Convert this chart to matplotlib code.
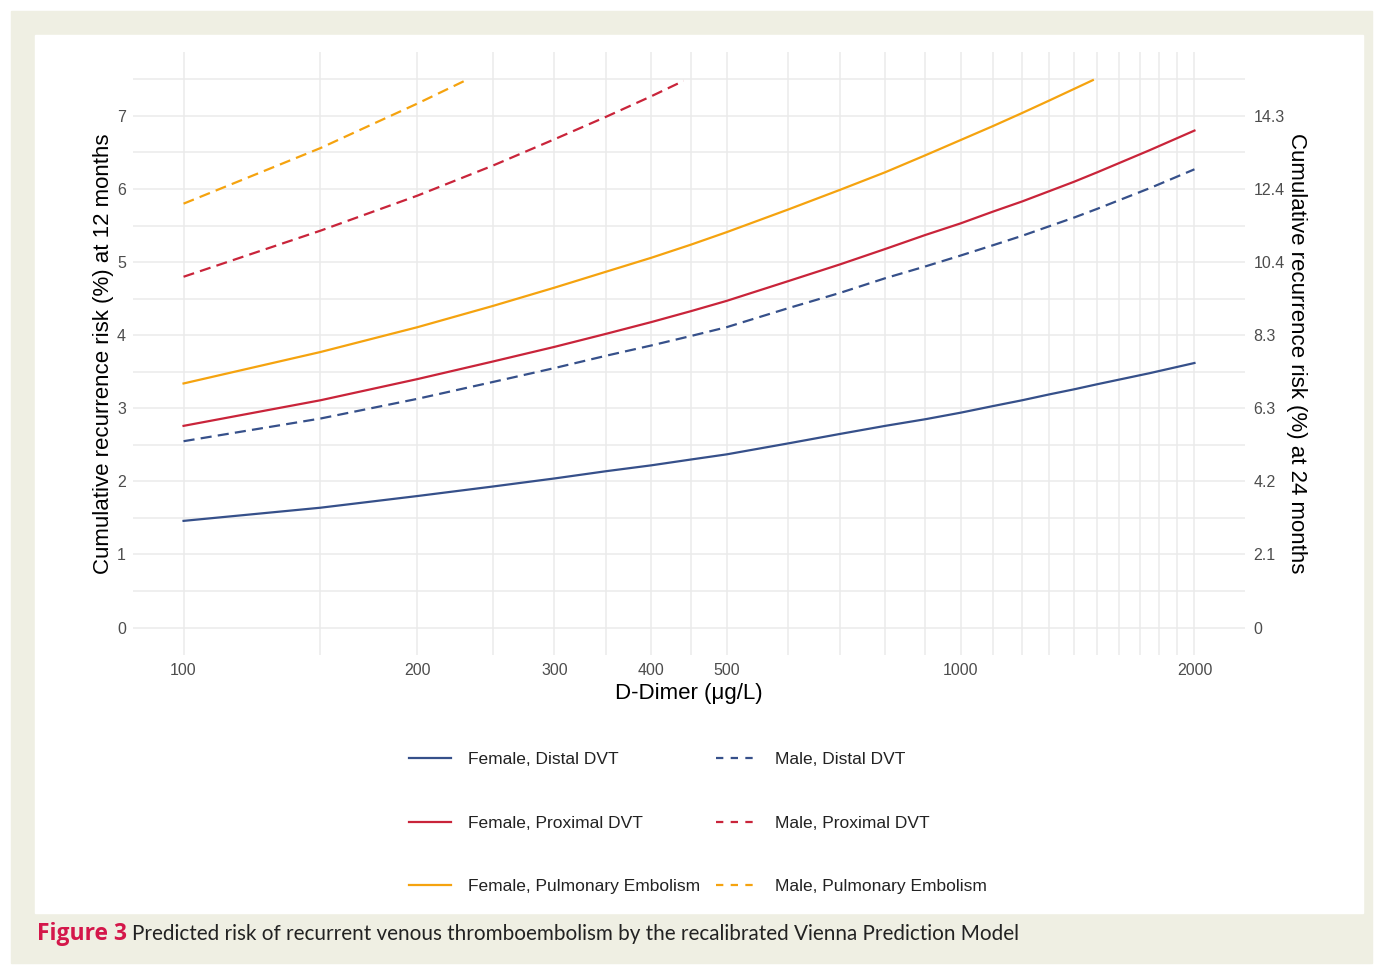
import matplotlib.pyplot as plt
from matplotlib.patches import Rectangle
from matplotlib.lines import Line2D
import numpy as np

# D-dimer (ug/L) values the curves were read at
dd = [100, 150, 200, 250, 300, 350, 400, 450, 500, 600, 700, 800, 900,
      1000, 1100, 1200, 1300, 1400, 1500, 1750, 2000]

female_distal = [1.46, 1.64, 1.80, 1.93, 2.04, 2.14, 2.22, 2.30, 2.37, 2.52, 2.65,
                 2.76, 2.85, 2.94, 3.03, 3.11, 3.19, 3.26, 3.33, 3.48, 3.62]
male_distal = [2.55, 2.86, 3.13, 3.36, 3.55, 3.72, 3.86, 3.99, 4.11, 4.37, 4.58,
               4.78, 4.94, 5.09, 5.23, 5.36, 5.49, 5.61, 5.73, 6.01, 6.27]
female_prox = [2.76, 3.11, 3.40, 3.64, 3.84, 4.02, 4.18, 4.33, 4.47, 4.74, 4.97,
               5.18, 5.37, 5.53, 5.69, 5.83, 5.97, 6.10, 6.23, 6.53, 6.80]

# these run off the top of the plot (clipped at 7.5)
dd_fpe = [100, 150, 200, 250, 300, 350, 400, 450, 500, 600, 700, 800, 900,
          1000, 1100, 1200, 1300, 1400, 1480]
female_pe = [3.34, 3.77, 4.11, 4.40, 4.65, 4.87, 5.06, 5.24, 5.41, 5.72, 5.99,
             6.23, 6.46, 6.67, 6.86, 7.04, 7.21, 7.37, 7.49]
dd_mprox = [100, 150, 200, 250, 300, 350, 400, 440]
male_prox = [4.80, 5.43, 5.91, 6.32, 6.68, 6.99, 7.27, 7.48]
dd_mpe = [100, 150, 200, 231]
male_pe = [5.80, 6.56, 7.17, 7.49]

x_major = [100, 200, 300, 400, 500, 1000, 2000]
x_minor = [150, 250, 350, 450, 600, 700, 800, 900, 1100, 1200, 1300, 1400,
           1500, 1600, 1700, 1800, 1900]
y_ticks = [0, 1, 2, 3, 4, 5, 6, 7]
y2_labels = ['0', '2.1', '4.2', '6.3', '8.3', '10.4', '12.4', '14.3']

BLUE = '#36508a'
RED = '#c9243a'
ORANGE = '#f5a30f'
GRID = '#ebebeb'
W, H = 1375, 966

plt.rcParams['font.family'] = ['Liberation Sans', 'DejaVu Sans']

fig = plt.figure(figsize=(W / 100, H / 100), dpi=100)
fig.patch.set_facecolor('white')
fig.add_artist(Rectangle((11 / W, 1 - 963 / H), (1372 - 11) / W, (963 - 11) / H,
                         transform=fig.transFigure, color='#efefe3', zorder=-3))
fig.add_artist(Rectangle((35 / W, 1 - 913 / H), (1363 - 35) / W, (913 - 35) / H,
                         transform=fig.transFigure, color='white', zorder=-2))

ax = fig.add_axes([133 / W, 1 - 655 / H, 1112 / W, 603 / H])
ax.set_facecolor('none')

lw = 1.6
dash = (5.0, 2.8)
series = [
    (dd, female_distal, BLUE, None, 'Female, Distal DVT'),
    (dd, female_prox, RED, None, 'Female, Proximal DVT'),
    (dd_fpe, female_pe, ORANGE, None, 'Female, Pulmonary Embolism'),
    (dd, male_distal, BLUE, dash, 'Male, Distal DVT'),
    (dd_mprox, male_prox, RED, dash, 'Male, Proximal DVT'),
    (dd_mpe, male_pe, ORANGE, dash, 'Male, Pulmonary Embolism'),
]
handles = []
for xs, ys, c, d, lab in series:
    ln, = ax.plot(xs, ys, color=c, lw=lw, label=lab, zorder=3)
    if d is not None:
        ln.set_dashes(d)
    handles.append(ln)

ax.set_xscale('log')
pad = 0.05 * np.log10(2000 / 100)
ax.set_xlim(100 / 10 ** pad, 2000 * 10 ** pad)
ax.set_ylim(-0.375, 7.875)

ax.set_xticks(x_major)
ax.set_xticklabels([str(v) for v in x_major])
ax.set_xticks(x_minor, minor=True)
ax.set_xticklabels([], minor=True)
ax.set_yticks(y_ticks)
ax.set_yticks(np.arange(0.5, 8, 1.0), minor=True)

ax.grid(True, which='both', color=GRID, lw=1.1)
ax.set_axisbelow(True)
for s in ax.spines.values():
    s.set_visible(False)
ax.tick_params(which='both', length=0, labelsize=11.5, labelcolor='#4d4d4d')
ax.tick_params(axis='x', pad=5.5)
ax.tick_params(axis='y', pad=5)

ax.set_xlabel('D-Dimer (μg/L)', fontsize=16, labelpad=4)
ax.set_ylabel('Cumulative recurrence risk (%) at 12 months', fontsize=16, labelpad=2)

ax2 = ax.twinx()
ax2.set_ylim(ax.get_ylim())
ax2.set_yticks(y_ticks)
ax2.set_yticklabels(y2_labels)
for s in ax2.spines.values():
    s.set_visible(False)
ax2.tick_params(length=0, labelsize=11.5, labelcolor='#4d4d4d', pad=6)
ax2.set_ylabel('Cumulative recurrence risk (%) at 24 months', fontsize=16,
               rotation=270, va='bottom', labelpad=1)

leg_handles = []
for h in handles:
    lh = Line2D([], [], color=h.get_color(), lw=lw)
    if h.get_linestyle() != '-':
        lh.set_dashes((3.3, 3.3))
    leg_handles.append(lh)
fig.legend(leg_handles, [h.get_label() for h in handles], ncol=2, frameon=False,
           loc='center', bbox_to_anchor=(698 / W, 1 - 823 / H), fontsize=12.5,
           handlelength=2.42, handletextpad=0.98, columnspacing=0.92,
           labelspacing=2.79, borderpad=0, labelcolor='#222222')

# caption: bold red label, then the rest on the same baseline
base_y = 1 - 940 / H
t1 = fig.text(37 / W, base_y, 'Figure 3', family=['Open Sans', 'DejaVu Sans'],
              fontweight='bold', fontsize=16.5, color='#d4174a', va='baseline')
fig.canvas.draw()
x1 = t1.get_window_extent().x1
fig.text((x1 + 5) / W, base_y,
         'Predicted risk of recurrent venous thromboembolism by the recalibrated '
         'Vienna Prediction Model', family=['Lato', 'DejaVu Sans'],
         fontsize=14.9, color='#222222', va='baseline')

fig.savefig('out.png', dpi=100)
